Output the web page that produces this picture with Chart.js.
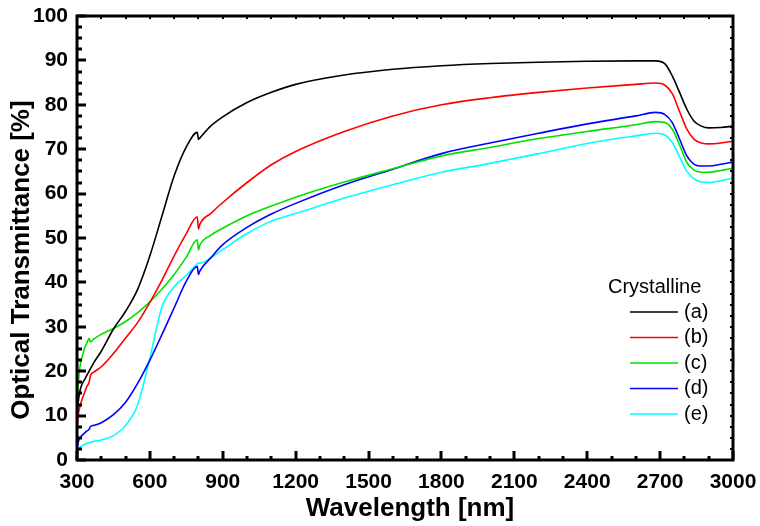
<!DOCTYPE html>
<html>
<head>
<meta charset="utf-8">
<script src="https://cdn.jsdelivr.net/npm/chart.js@4.4.1/dist/chart.umd.min.js"></script>
<style>
html,body{margin:0;padding:0;background:#fff;}
canvas{display:block;}
</style>
</head>
<body>
<canvas id="c" width="760" height="526"></canvas>
<script>
// ---- data ----
const wavelengths = [300,305,312,320,330,340,350,355,370,400,450,500,550,600,650,700,750,795,800,805,850,900,1000,1100,1200,1400,1600,1800,2000,2200,2400,2600,2680,2720,2750,2780,2810,2840,2870,2900,2950,3000];
const seriesA = [9,13,15.5,17,18,19,20,20.5,22,24.5,29.5,33.5,38.5,46,55,64,70.5,73.8,72.2,72.5,75.2,77.3,80.5,82.8,84.6,86.7,88,88.8,89.3,89.6,89.8,89.9,89.9,89.2,86.5,82.8,79,76.3,75.2,74.8,74.9,75.2];
const seriesB = [6,10,12,13.5,15,16.5,17.5,19,19.8,21,24,27.5,31,35.5,40.5,46,51,54.8,52,53,55.5,58,62.5,66.5,69.5,74,77.5,80,81.6,82.8,83.8,84.6,84.9,84.4,82.5,78.5,74.5,72.2,71.4,71.2,71.4,71.8];
const seriesC = [12,17,21,23,25,26.3,27.4,26.6,27.3,28.3,29.6,31.2,33.2,35.6,38.5,41.8,45.7,49.6,47.3,48.3,50.6,52.2,55,57.2,59.2,62.6,65.6,68.5,70.4,72.4,74,75.5,76.2,76,74.5,71,67,65.3,64.8,64.8,65.2,65.7];
const seriesD = [2.5,4,5,5.5,6,6.5,6.9,7.5,7.8,8.4,10.2,13,17.3,22.5,28.3,34.3,40.3,43.6,41.8,42.5,45.5,48.5,52.4,55.4,57.8,62,65.5,69,71.4,73.6,75.7,77.5,78.3,77.8,76,72.3,68.5,66.6,66.2,66.2,66.6,67.1];
const seriesE = [1,2,2.8,3.2,3.5,3.7,3.9,4,4.2,4.5,5.5,7.8,12.5,23,34.5,39,41.6,44.2,44.4,44.3,45.5,47.4,51,53.8,55.5,59,62,64.8,66.8,69,71.3,73,73.6,73.2,71.5,68.3,65,63.3,62.6,62.5,62.9,63.5];
const seriesLabels = ['(a)','(b)','(c)','(d)','(e)'];
const seriesColors = ['#000000','#ff0000','#00e000','#0000ff','#00ffff'];
const legendTitle = 'Crystalline';
const xTitle = 'Wavelength [nm]';
const yTitle = 'Optical Transmittance [%]';
const xMin = 300, xMax = 3000, xStep = 300, xMinorStep = 100;
const yMin = 0, yMax = 100, yStep = 10, yMinorStep = 2.5;

const allSeries = [seriesA, seriesB, seriesC, seriesD, seriesE];
const datasets = allSeries.map((vals, i) => ({
  label: seriesLabels[i],
  data: wavelengths.map((w, j) => ({x: w, y: vals[j]})),
  borderColor: seriesColors[i],
  backgroundColor: seriesColors[i],
  borderWidth: 1.6,
  pointRadius: 0,
  fill: false,
  cubicInterpolationMode: 'monotone'
}));

const FONT = '"Liberation Sans", Arial, sans-serif';

const framePlugin = {
  id: 'framePlugin',
  afterDraw(chart) {
    const ctx = chart.ctx;
    const xs = chart.scales.x, ys = chart.scales.y;
    const L = xs.left, R = xs.right, T = ys.top, B = ys.bottom;
    ctx.save();
    ctx.strokeStyle = '#000';
    ctx.lineCap = 'butt';
    for (let v = xMin; v <= xMax + 1e-6; v += xMinorStep) {
      const px = Math.round(xs.getPixelForValue(v));
      const major = Math.abs((v - xMin) % xStep) < 1e-6;
      const len = major ? 9 : 4;
      ctx.lineWidth = 3;
      ctx.beginPath(); ctx.moveTo(px, B); ctx.lineTo(px, B - len); ctx.stroke();
      ctx.lineWidth = 2;
      ctx.beginPath(); ctx.moveTo(px, T); ctx.lineTo(px, T + 3); ctx.stroke();
    }
    for (let v = yMin; v <= yMax + 1e-6; v += yMinorStep) {
      const py = Math.round(ys.getPixelForValue(v));
      const major = Math.abs((v - yMin) % yStep) < 1e-6;
      const len = major ? 9 : 5;
      ctx.lineWidth = 3;
      ctx.beginPath(); ctx.moveTo(L, py); ctx.lineTo(L + len, py); ctx.stroke();
      ctx.lineWidth = 2;
      ctx.beginPath(); ctx.moveTo(R, py); ctx.lineTo(R - 3, py); ctx.stroke();
    }
    ctx.lineWidth = 3;
    ctx.strokeRect(L, T, R - L, B - T);

    ctx.fillStyle = '#000';
    ctx.font = 'bold 26px ' + FONT;
    ctx.textAlign = 'center';
    ctx.textBaseline = 'middle';
    ctx.fillText(xTitle, (L + R) / 2 + 5, 509);
    ctx.save();
    ctx.translate(22, 260);
    ctx.rotate(-Math.PI / 2);
    ctx.fillText(yTitle, 0, 0);
    ctx.restore();

    ctx.font = '20px ' + FONT;
    ctx.textAlign = 'left';
    ctx.fillText(legendTitle, 608, 287);
    chart.data.datasets.forEach((ds, i) => {
      const y = 312 + i * 25.5;
      ctx.strokeStyle = ds.borderColor;
      ctx.lineWidth = 1.6;
      ctx.beginPath(); ctx.moveTo(630, y); ctx.lineTo(678, y); ctx.stroke();
      ctx.fillStyle = '#000';
      ctx.fillText(ds.label, 684, y);
    });
    ctx.restore();
  }
};

new Chart(document.getElementById('c'), {
  type: 'line',
  data: { datasets },
  options: {
    responsive: false,
    animation: false,
    layout: { padding: { top: 16, right: 27, left: 0, bottom: 0 } },
    plugins: { legend: { display: false }, tooltip: { enabled: false } },
    scales: {
      x: {
        type: 'linear',
        min: xMin, max: xMax,
        grid: { display: false, drawTicks: false },
        border: { display: false },
        ticks: { stepSize: xStep, padding: 10, color: '#000', font: { family: FONT, size: 21, weight: 'bold' }, maxRotation: 0, autoSkip: false,
                 callback: (v) => String(v) },
        afterFit(s) { s.height = 66; s.paddingLeft = 0; s.paddingRight = 0; }
      },
      y: {
        type: 'linear',
        min: yMin, max: yMax,
        grid: { display: false, drawTicks: false },
        border: { display: false },
        ticks: { stepSize: yStep, padding: 9, color: '#000', font: { family: FONT, size: 21, weight: 'bold' },
                 callback: (v) => String(v) },
        afterFit(s) { s.width = 77; s.paddingTop = 0; s.paddingBottom = 0; }
      }
    }
  },
  plugins: [framePlugin]
});
</script>
</body>
</html>
